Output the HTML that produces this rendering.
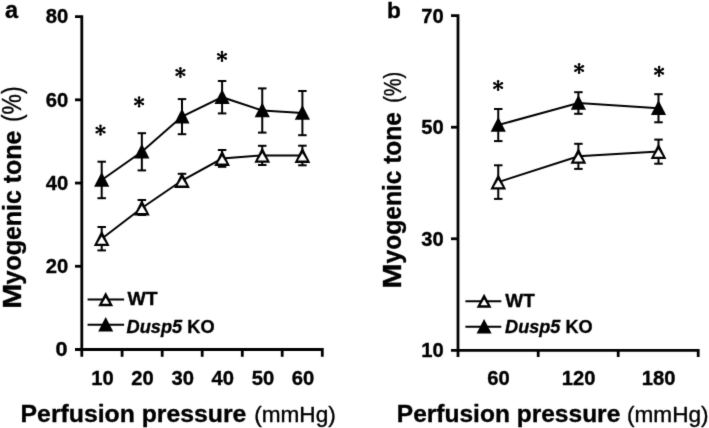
<!DOCTYPE html>
<html><head><meta charset="utf-8"><style>
html,body{margin:0;padding:0;background:#fff;}
body{width:709px;height:428px;overflow:hidden;}
svg{display:block;font-family:"Liberation Sans", sans-serif;}
</style></head><body>
<svg width="709" height="428" viewBox="0 0 709 428">
<defs><filter id="bl" x="0" y="0" width="709" height="428" filterUnits="userSpaceOnUse" color-interpolation-filters="sRGB"><feConvolveMatrix order="3" kernelMatrix="0.0113 0.0838 0.0113 0.0838 0.6193 0.0838 0.0113 0.0838 0.0113" edgeMode="duplicate" preserveAlpha="true"/></filter></defs>
<g filter="url(#bl)">
<rect width="709" height="428" fill="#fff"/>
<g stroke="#000" stroke-width="2.8" fill="none"><polyline points="75,16.6 81.8,16.6 81.8,356.8"/><line x1="75" y1="99.82" x2="81.8" y2="99.82"/><line x1="75" y1="183.05" x2="81.8" y2="183.05"/><line x1="75" y1="266.27" x2="81.8" y2="266.27"/><polyline points="75,349.5 322.3,349.5 322.3,356.8"/><line x1="122.1" y1="349.5" x2="122.1" y2="356.8"/><line x1="162.2" y1="349.5" x2="162.2" y2="356.8"/><line x1="202.2" y1="349.5" x2="202.2" y2="356.8"/><line x1="242.3" y1="349.5" x2="242.3" y2="356.8"/><line x1="282.2" y1="349.5" x2="282.2" y2="356.8"/></g><polyline fill="none" stroke="#000" stroke-width="2.0" points="101.7,238.7 141.85,208 182,180.5 222.1,158.5 262.25,155.4 302.4,155.5"/><g stroke="#000" stroke-width="2.0"><line x1="101.7" y1="227" x2="101.7" y2="250.4"/><line x1="97.45" y1="227" x2="105.95" y2="227"/><line x1="97.45" y1="250.4" x2="105.95" y2="250.4"/><line x1="141.85" y1="200" x2="141.85" y2="215"/><line x1="137.6" y1="200" x2="146.1" y2="200"/><line x1="137.6" y1="215" x2="146.1" y2="215"/><line x1="182" y1="173.8" x2="182" y2="187"/><line x1="177.75" y1="173.8" x2="186.25" y2="173.8"/><line x1="177.75" y1="187" x2="186.25" y2="187"/><line x1="222.1" y1="150" x2="222.1" y2="166.8"/><line x1="217.85" y1="150" x2="226.35" y2="150"/><line x1="217.85" y1="166.8" x2="226.35" y2="166.8"/><line x1="262.25" y1="145.8" x2="262.25" y2="165"/><line x1="258" y1="145.8" x2="266.5" y2="145.8"/><line x1="258" y1="165" x2="266.5" y2="165"/><line x1="302.4" y1="145.7" x2="302.4" y2="165.3"/><line x1="298.15" y1="145.7" x2="306.65" y2="145.7"/><line x1="298.15" y1="165.3" x2="306.65" y2="165.3"/></g><polygon points="101.7,230.5 93.8,246.1 109.6,246.1" fill="#000"/><polygon points="101.7,236.4 97.2,243.8 106.2,243.8" fill="#fff"/><polygon points="141.85,199.8 133.95,215.4 149.75,215.4" fill="#000"/><polygon points="141.85,205.7 137.35,213.1 146.35,213.1" fill="#fff"/><polygon points="182,172.3 174.1,187.9 189.9,187.9" fill="#000"/><polygon points="182,178.2 177.5,185.6 186.5,185.6" fill="#fff"/><polygon points="222.1,150.3 214.2,165.9 230,165.9" fill="#000"/><polygon points="222.1,156.2 217.6,163.6 226.6,163.6" fill="#fff"/><polygon points="262.25,147.2 254.35,162.8 270.15,162.8" fill="#000"/><polygon points="262.25,153.1 257.75,160.5 266.75,160.5" fill="#fff"/><polygon points="302.4,147.3 294.5,162.9 310.3,162.9" fill="#000"/><polygon points="302.4,153.2 297.9,160.6 306.9,160.6" fill="#fff"/><polyline fill="none" stroke="#000" stroke-width="2.0" points="101.7,180 141.85,151.8 182,116.6 222.1,97.2 262.25,110.5 302.4,112.9"/><g stroke="#000" stroke-width="2.0"><line x1="101.7" y1="161.7" x2="101.7" y2="198.2"/><line x1="97.45" y1="161.7" x2="105.95" y2="161.7"/><line x1="97.45" y1="198.2" x2="105.95" y2="198.2"/><line x1="141.85" y1="133.2" x2="141.85" y2="170.4"/><line x1="137.6" y1="133.2" x2="146.1" y2="133.2"/><line x1="137.6" y1="170.4" x2="146.1" y2="170.4"/><line x1="182" y1="99.1" x2="182" y2="134.2"/><line x1="177.75" y1="99.1" x2="186.25" y2="99.1"/><line x1="177.75" y1="134.2" x2="186.25" y2="134.2"/><line x1="222.1" y1="81" x2="222.1" y2="113.4"/><line x1="217.85" y1="81" x2="226.35" y2="81"/><line x1="217.85" y1="113.4" x2="226.35" y2="113.4"/><line x1="262.25" y1="88.4" x2="262.25" y2="132.6"/><line x1="258" y1="88.4" x2="266.5" y2="88.4"/><line x1="258" y1="132.6" x2="266.5" y2="132.6"/><line x1="302.4" y1="91" x2="302.4" y2="135.2"/><line x1="298.15" y1="91" x2="306.65" y2="91"/><line x1="298.15" y1="135.2" x2="306.65" y2="135.2"/></g><polygon points="101.7,172 94.1,186.8 109.3,186.8" fill="#000"/><polygon points="141.85,143.8 134.25,158.6 149.45,158.6" fill="#000"/><polygon points="182,108.6 174.4,123.4 189.6,123.4" fill="#000"/><polygon points="222.1,89.2 214.5,104 229.7,104" fill="#000"/><polygon points="262.25,102.5 254.65,117.3 269.85,117.3" fill="#000"/><polygon points="302.4,104.9 294.8,119.7 310,119.7" fill="#000"/><path d="M100.5 125.75L100.5 134.45M96.73 127.92L104.27 132.28M96.73 132.28L104.27 127.92" stroke="#000" stroke-width="1.75"/><g fill="#000"><circle cx="100.5" cy="125.75" r="1.25"/><circle cx="100.5" cy="134.45" r="1.25"/><circle cx="96.73" cy="127.92" r="1.25"/><circle cx="104.27" cy="132.28" r="1.25"/><circle cx="96.73" cy="132.28" r="1.25"/><circle cx="104.27" cy="127.92" r="1.25"/></g><path d="M139.1 97.45L139.1 106.15M135.33 99.62L142.87 103.97M135.33 103.97L142.87 99.62" stroke="#000" stroke-width="1.75"/><g fill="#000"><circle cx="139.1" cy="97.45" r="1.25"/><circle cx="139.1" cy="106.15" r="1.25"/><circle cx="135.33" cy="99.62" r="1.25"/><circle cx="142.87" cy="103.97" r="1.25"/><circle cx="135.33" cy="103.97" r="1.25"/><circle cx="142.87" cy="99.62" r="1.25"/></g><path d="M180.4 68.15L180.4 76.85M176.63 70.33L184.17 74.67M176.63 74.67L184.17 70.33" stroke="#000" stroke-width="1.75"/><g fill="#000"><circle cx="180.4" cy="68.15" r="1.25"/><circle cx="180.4" cy="76.85" r="1.25"/><circle cx="176.63" cy="70.33" r="1.25"/><circle cx="184.17" cy="74.67" r="1.25"/><circle cx="176.63" cy="74.67" r="1.25"/><circle cx="184.17" cy="70.33" r="1.25"/></g><path d="M222 52.05L222 60.75M218.23 54.23L225.77 58.57M218.23 58.57L225.77 54.23" stroke="#000" stroke-width="1.75"/><g fill="#000"><circle cx="222" cy="52.05" r="1.25"/><circle cx="222" cy="60.75" r="1.25"/><circle cx="218.23" cy="54.23" r="1.25"/><circle cx="225.77" cy="58.57" r="1.25"/><circle cx="218.23" cy="58.57" r="1.25"/><circle cx="225.77" cy="54.23" r="1.25"/></g><g stroke="#000" stroke-width="2.8" fill="none"><polyline points="451,15.7 458,15.7 458,357"/><line x1="451" y1="127.23" x2="458" y2="127.23"/><line x1="451" y1="238.77" x2="458" y2="238.77"/><polyline points="451,350.3 698.2,350.3 698.2,357"/><line x1="538.2" y1="350.3" x2="538.2" y2="357"/><line x1="618.2" y1="350.3" x2="618.2" y2="357"/></g><polyline fill="none" stroke="#000" stroke-width="2.0" points="498.25,182.1 578.4,156.3 658.5,151.6"/><g stroke="#000" stroke-width="2.0"><line x1="498.25" y1="165.3" x2="498.25" y2="198.9"/><line x1="494" y1="165.3" x2="502.5" y2="165.3"/><line x1="494" y1="198.9" x2="502.5" y2="198.9"/><line x1="578.4" y1="143.8" x2="578.4" y2="168.9"/><line x1="574.15" y1="143.8" x2="582.65" y2="143.8"/><line x1="574.15" y1="168.9" x2="582.65" y2="168.9"/><line x1="658.5" y1="139.6" x2="658.5" y2="163.7"/><line x1="654.25" y1="139.6" x2="662.75" y2="139.6"/><line x1="654.25" y1="163.7" x2="662.75" y2="163.7"/></g><polygon points="498.25,173.9 490.35,189.5 506.15,189.5" fill="#000"/><polygon points="498.25,179.8 493.75,187.2 502.75,187.2" fill="#fff"/><polygon points="578.4,148.1 570.5,163.7 586.3,163.7" fill="#000"/><polygon points="578.4,154 573.9,161.4 582.9,161.4" fill="#fff"/><polygon points="658.5,143.4 650.6,159 666.4,159" fill="#000"/><polygon points="658.5,149.3 654,156.7 663,156.7" fill="#fff"/><polyline fill="none" stroke="#000" stroke-width="2.0" points="498.25,125 578.4,103 658.5,108.3"/><g stroke="#000" stroke-width="2.0"><line x1="498.25" y1="109" x2="498.25" y2="141.1"/><line x1="494" y1="109" x2="502.5" y2="109"/><line x1="494" y1="141.1" x2="502.5" y2="141.1"/><line x1="578.4" y1="92.2" x2="578.4" y2="113.8"/><line x1="574.15" y1="92.2" x2="582.65" y2="92.2"/><line x1="574.15" y1="113.8" x2="582.65" y2="113.8"/><line x1="658.5" y1="94.2" x2="658.5" y2="122.3"/><line x1="654.25" y1="94.2" x2="662.75" y2="94.2"/><line x1="654.25" y1="122.3" x2="662.75" y2="122.3"/></g><polygon points="498.25,117 490.65,131.8 505.85,131.8" fill="#000"/><polygon points="578.4,95 570.8,109.8 586,109.8" fill="#000"/><polygon points="658.5,100.3 650.9,115.1 666.1,115.1" fill="#000"/><path d="M498.1 81.15L498.1 89.85M494.33 83.33L501.87 87.67M494.33 87.67L501.87 83.33" stroke="#000" stroke-width="1.75"/><g fill="#000"><circle cx="498.1" cy="81.15" r="1.25"/><circle cx="498.1" cy="89.85" r="1.25"/><circle cx="494.33" cy="83.33" r="1.25"/><circle cx="501.87" cy="87.67" r="1.25"/><circle cx="494.33" cy="87.67" r="1.25"/><circle cx="501.87" cy="83.33" r="1.25"/></g><path d="M579.1 64.15L579.1 72.85M575.33 66.33L582.87 70.67M575.33 70.67L582.87 66.33" stroke="#000" stroke-width="1.75"/><g fill="#000"><circle cx="579.1" cy="64.15" r="1.25"/><circle cx="579.1" cy="72.85" r="1.25"/><circle cx="575.33" cy="66.33" r="1.25"/><circle cx="582.87" cy="70.67" r="1.25"/><circle cx="575.33" cy="70.67" r="1.25"/><circle cx="582.87" cy="66.33" r="1.25"/></g><path d="M659.1 66.95L659.1 75.65M655.33 69.12L662.87 73.47M655.33 73.47L662.87 69.12" stroke="#000" stroke-width="1.75"/><g fill="#000"><circle cx="659.1" cy="66.95" r="1.25"/><circle cx="659.1" cy="75.65" r="1.25"/><circle cx="655.33" cy="69.12" r="1.25"/><circle cx="662.87" cy="73.47" r="1.25"/><circle cx="655.33" cy="73.47" r="1.25"/><circle cx="662.87" cy="69.12" r="1.25"/></g><line x1="87.6" y1="299.6" x2="124.1" y2="299.6" stroke="#000" stroke-width="2.0"/><polygon points="105.7,292.1 98.25,306.2 113.15,306.2" fill="#000"/><polygon points="105.7,297.7 102.1,303.7 109.3,303.7" fill="#fff"/><line x1="87.6" y1="324.7" x2="124.1" y2="324.7" stroke="#000" stroke-width="2.0"/><polygon points="105.7,317 98.2,331.4 113.2,331.4" fill="#000"/><line x1="465.4" y1="301.2" x2="501.3" y2="301.2" stroke="#000" stroke-width="2.0"/><polygon points="484.1,293.7 476.65,307.8 491.55,307.8" fill="#000"/><polygon points="484.1,299.3 480.5,305.3 487.7,305.3" fill="#fff"/><line x1="465.4" y1="326.7" x2="501.3" y2="326.7" stroke="#000" stroke-width="2.0"/><polygon points="484.1,319 476.6,333.4 491.6,333.4" fill="#000"/>
<g fill="#000" stroke="#000" stroke-width="0.35" stroke-linejoin="round"><text x="68.3" y="23.4" font-size="20.2" font-weight="bold" text-anchor="end">80</text><text x="68.3" y="106.62" font-size="20.2" font-weight="bold" text-anchor="end">60</text><text x="68.3" y="189.85" font-size="20.2" font-weight="bold" text-anchor="end">40</text><text x="68.3" y="273.07" font-size="20.2" font-weight="bold" text-anchor="end">20</text><text x="55.6" y="356.3" font-size="20.2" font-weight="bold" textLength="12" lengthAdjust="spacingAndGlyphs">0</text><text x="102.4" y="384.7" font-size="20.2" font-weight="bold" text-anchor="middle">10</text><text x="142.55" y="384.7" font-size="20.2" font-weight="bold" text-anchor="middle">20</text><text x="182.7" y="384.7" font-size="20.2" font-weight="bold" text-anchor="middle">30</text><text x="222.8" y="384.7" font-size="20.2" font-weight="bold" text-anchor="middle">40</text><text x="262.95" y="384.7" font-size="20.2" font-weight="bold" text-anchor="middle">50</text><text x="303.1" y="384.7" font-size="20.2" font-weight="bold" text-anchor="middle">60</text><text x="443.8" y="22.5" font-size="20.2" font-weight="bold" text-anchor="end">70</text><text x="443.8" y="134.03" font-size="20.2" font-weight="bold" text-anchor="end">50</text><text x="443.8" y="245.57" font-size="20.2" font-weight="bold" text-anchor="end">30</text><text x="443.8" y="357.1" font-size="20.2" font-weight="bold" text-anchor="end">10</text><text x="498.45" y="384.7" font-size="20.2" font-weight="bold" text-anchor="middle">60</text><text x="578.6" y="384.7" font-size="20.2" font-weight="bold" text-anchor="middle">120</text><text x="658.7" y="384.7" font-size="20.2" font-weight="bold" text-anchor="middle">180</text><text x="4.9" y="18.1" font-size="23.5" font-weight="bold">a</text><text x="386.9" y="18.4" font-size="22.6" font-weight="bold">b</text><text x="127.4" y="304.8" font-size="18.8" font-weight="bold" textLength="30.2" lengthAdjust="spacingAndGlyphs">WT</text><text x="126.6" y="332.9" font-size="18.8" font-weight="bold" textLength="88.0" lengthAdjust="spacingAndGlyphs"><tspan font-style="italic">Dusp5</tspan> KO</text><text x="505.3" y="307.3" font-size="18.8" font-weight="bold" textLength="29.5" lengthAdjust="spacingAndGlyphs">WT</text><text x="505.1" y="332.6" font-size="18.8" font-weight="bold" textLength="87.5" lengthAdjust="spacingAndGlyphs"><tspan font-style="italic">Dusp5</tspan> KO</text><text x="20.6" y="421.8" font-size="24.4" font-weight="bold" textLength="225.7" lengthAdjust="spacingAndGlyphs">Perfusion pressure</text><text x="254.2" y="421.9" font-size="21.2" textLength="81.6" lengthAdjust="spacingAndGlyphs">(mmHg)</text><text x="396.8" y="421.9" font-size="24.4" font-weight="bold" textLength="223.5" lengthAdjust="spacingAndGlyphs">Perfusion pressure</text><text x="627.0" y="421.5" font-size="21.2" textLength="81.6" lengthAdjust="spacingAndGlyphs">(mmHg)</text><text transform="translate(21.1,308.7) rotate(-90)" font-size="25.5" font-weight="bold" textLength="25.1" lengthAdjust="spacingAndGlyphs">M</text><text transform="translate(21.1,284.5) rotate(-90)" font-size="25.5" font-weight="bold" textLength="154" lengthAdjust="spacingAndGlyphs">yogenic tone</text><text transform="translate(20.5,122.0) rotate(-90)" font-size="27" textLength="35.5" lengthAdjust="spacingAndGlyphs">(%)</text><text transform="translate(400.9,288.4) rotate(-90)" font-size="25.5" font-weight="bold" textLength="25.1" lengthAdjust="spacingAndGlyphs">M</text><text transform="translate(400.9,263.4) rotate(-90)" font-size="25.5" font-weight="bold" textLength="151.4" lengthAdjust="spacingAndGlyphs">yogenic tone</text><text transform="translate(400.5,102.8) rotate(-90)" font-size="23.5" textLength="31" lengthAdjust="spacingAndGlyphs">(%)</text></g>
</g>
</svg>
</body></html>
